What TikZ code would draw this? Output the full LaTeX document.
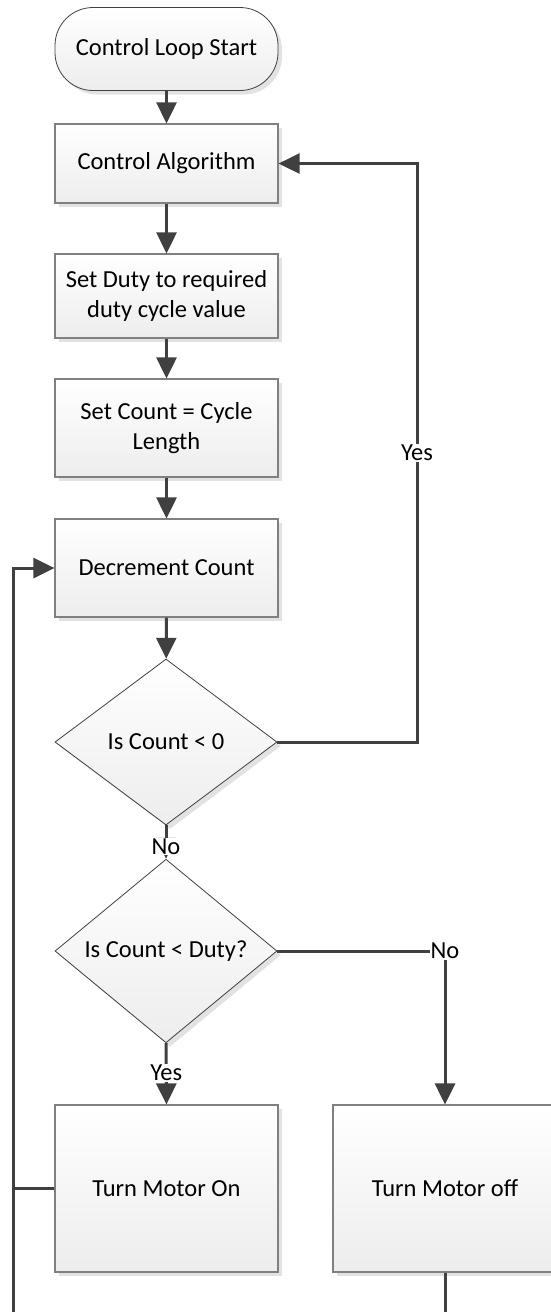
\documentclass[tikz,border=0pt]{standalone}
\usepackage{fontspec}
\setmainfont{Carlito}
\usetikzlibrary{shapes.geometric,arrows.meta,shadows}
\definecolor{flowline}{HTML}{404040}
\definecolor{boxline}{HTML}{808080}
\definecolor{boxfill}{HTML}{EDEDED}
\definecolor{boxshadow}{HTML}{E2E2E2}
\newcommand{\flowfont}{\fontsize{24.5}{29.5}\selectfont}
\tikzset{
  shaded fill/.style={
    top color=white,
    bottom color=boxfill,
    drop shadow={shadow xshift=4pt,shadow yshift=-4pt,fill=boxshadow,opacity=1}
  },
  process/.style={
    shaded fill,
    draw=boxline,
    line width=1.2pt,
    minimum width=223pt,
    inner sep=0pt,
    align=center,
    font=\flowfont
  },
  terminal/.style={
    process,
    draw=flowline,
    line width=0.8pt,
    rounded corners=38pt
  },
  decision/.style={
    shape=diamond,
    shaded fill,
    draw=flowline,
    line width=0.8pt,
    minimum width=222pt,
    minimum height=166pt,
    inner sep=0pt,
    font=\flowfont
  },
  flow/.style={
    draw=flowline,
    line width=3pt,
    -{Triangle[width=20pt,length=21pt]}
  },
  plain flow/.style={
    draw=flowline,
    line width=3pt
  },
  flow label/.style={
    fill=white,
    inner sep=1pt,
    font=\flowfont
  }
}

\begin{document}
\begin{tikzpicture}[x=1pt,y=-1pt]
  \useasboundingbox (0,0) rectangle (550,1312);
  \node[terminal,minimum height=83pt] (start) at (166.5,49) {Control Loop Start};
  \node[process,minimum height=79pt] (algo) at (166.5,163.5) {Control Algorithm};
  \node[process,minimum height=84pt] (duty) at (166.5,296) {Set Duty to required\\duty cycle value};
  \node[process,minimum height=98pt] (count) at (166.5,428) {Set Count = Cycle\\Length};
  \node[process,minimum height=98pt] (decr) at (166.5,568) {Decrement Count};
  \node[decision] (isneg) at (166,742) {Is Count < 0};
  \node[decision] (isduty) at (166,951) {Is Count < Duty?};
  \node[process,minimum height=167pt] (motoron) at (166.5,1188.5) {Turn Motor On};
  \node[process,minimum height=167pt,minimum width=224pt] (motoroff) at (445,1188.5) {Turn Motor off};
  \coordinate (backright) at (417,163.5);
  \coordinate (backleft) at (13,1312);
  \coordinate (offend) at (445,1312);

  \draw[flow] (start) -- (algo);
  \draw[flow] (algo) -- (duty);
  \draw[flow] (duty) -- (count);
  \draw[flow] (count) -- (decr);
  \draw[flow] (decr) -- (isneg);
  \draw[flow] (isneg.east) -| (backright) node[flow label,pos=0.75] {Yes} -- (algo.east);
  \draw[flow] (isneg.south) -- (isduty.north) node[flow label,pos=0.63] {No};
  \draw[flow] (isduty.south) -- (motoron.north) node[flow label,pos=0.48] {Yes};
  \draw[flow] (isduty.east) -| (motoroff.north) node[flow label,pos=0.5] {No};
  \draw[plain flow] (motoroff.south) -- (offend);
  \draw[flow] (backleft) |- (decr.west);
  \draw[plain flow] (motoron.west) -- (motoron.west -| backleft);
\end{tikzpicture}
\end{document}
